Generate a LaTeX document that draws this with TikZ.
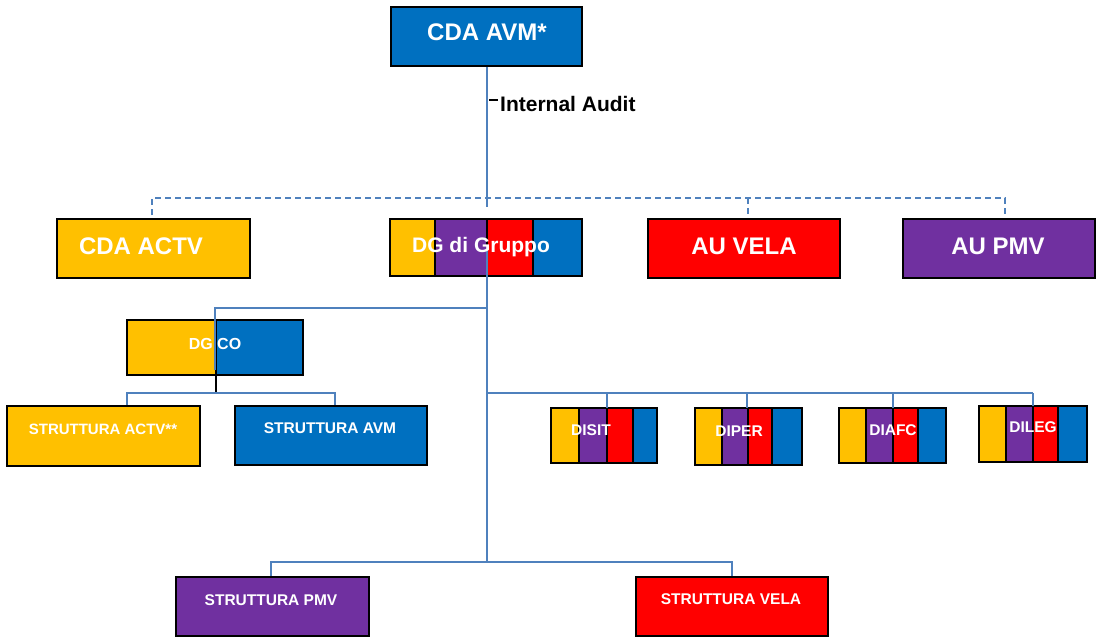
\documentclass[tikz,border=0pt]{standalone}
\usepackage{fontspec}
\setmainfont{Liberation Sans}
\definecolor{cblue}{HTML}{0070C0}
\definecolor{cyel}{HTML}{FFC000}
\definecolor{cred}{HTML}{FF0000}
\definecolor{cpur}{HTML}{7030A0}
\definecolor{conn}{HTML}{4F81BD}
\tikzset{
  box/.style={draw=black, line width=2pt, inner sep=0pt},
  seg/.style={draw=black, line width=1.8pt},
  lbl/.style={text=white, font=\bfseries\fontsize{#1}{#1}\selectfont, anchor=base, inner sep=0pt},
  link/.style={draw=conn, line width=1.5pt},
  dlink/.style={draw=conn, line width=1.5pt, dash pattern=on 6pt off 4pt},
}
\newcommand{\rbox}[6]{\node[box,fill=#6,minimum width={#4-#2},minimum height={#5-#3}] (#1) at ({(#2+#4)/2},{(#3+#5)/2}) {};}
\newcommand{\segbox}[8]{%
  \path[seg,fill=cyel] (#4,#2) rectangle (#5,#3);
  \path[seg,fill=cpur] (#5,#2) rectangle (#6,#3);
  \path[seg,fill=cred] (#6,#2) rectangle (#7,#3);
  \path[seg,fill=cblue] (#7,#2) rectangle (#8,#3);
  \node[inner sep=0pt,minimum width={#8-#4},minimum height={#3-#2}] (#1) at ({(#4+#8)/2},{(#2+#3)/2}) {};}
\begin{document}
\begin{tikzpicture}[x=1pt,y=-1pt]
\useasboundingbox (0,0) rectangle (1097,639);
% boxes
\rbox{avm}{391}{7}{582}{66}{cblue}
\rbox{actv}{57}{219}{250}{278}{cyel}
\segbox{dg}{219}{276}{390}{435}{487}{533}{582}
\rbox{vela}{648}{219}{840}{278}{cred}
\rbox{pmv}{903}{219}{1095}{278}{cpur}
\path[box,line width=2.5pt,fill=cyel] (127,320) rectangle (216,375);
\path[box,line width=2.5pt,fill=cblue] (216,320) rectangle (303,375);
\node[inner sep=0pt,minimum width=176,minimum height=55] (dgco) at (215,347.5) {};
\rbox{sactv}{7}{406}{200}{466}{cyel}
\rbox{savm}{235}{406}{427}{465}{cblue}
\segbox{disit}{408}{463}{551}{579}{607}{633}{657}
\segbox{diper}{408}{465}{695}{722}{748}{772}{802}
\segbox{diafc}{408}{463}{839}{866}{893}{918}{946}
\segbox{dileg}{406}{462}{979}{1006}{1033}{1058}{1087}
\rbox{spmv}{176}{577}{369}{636}{cpur}
\rbox{svela}{636}{577}{828}{636}{cred}
% connectors
\coordinate (t1) at (487,207);
\coordinate (t2) at (487,245);
\coordinate (t3) at (487,308);
\coordinate (t4) at (487,393);
\coordinate (t5) at (487,562);
\draw[link] (avm.south -| t1) -- (t1);
\draw[link] (t2) -- (t5);
\coordinate (d0) at (152,198);
\coordinate (d1) at (1005,198);
\draw[dlink] (152,215) -- (d0) -- (d1) -- (1005,215);
\draw[dlink] (748,198) -- (748,215);
\draw[link] (t3) -- (215,308) -- (215,370);
\draw[black, line width=1.5pt] (216,375) -- (216,393);
\draw[link] (sactv.north -| 127,0) -- (127,393) -- (335,393) -- (savm.north -| 335,0);
\draw[link] (t4) -- (1033,393);
\draw[link] (607,393) -- (disit.north -| 607,0);
\draw[link] (747,393) -- (diper.north -| 747,0);
\draw[link] (893,393) -- (diafc.north -| 893,0);
\draw[link] (1033,393) -- (dileg.north -| 1033,0);
\draw[link] (spmv.north -| 271,0) -- (271,562) -- (732,562) -- (svela.north -| 732,0);
% internal audit
\coordinate (ia0) at (489,100);
\coordinate (ia1) at (498,100);
\draw[black, line width=1.3pt] (ia0) -- (ia1);
\node[anchor=base west, inner sep=0pt, font=\bfseries\fontsize{21}{21}\selectfont] (ia) at (500,112) {Internal Audit};
% labels
\node[lbl=24] (lavm) at (487,41) {CDA AVM*};
\node[lbl=24] (lactv) at (141,254) {CDA ACTV};
\node[lbl=21] (ldg) at (481,252) {DG di Gruppo};
\node[lbl=24] (lvela) at (744,254) {AU VELA};
\node[lbl=24] (lpmv) at (998,254) {AU PMV};
\node[lbl=16] (ldgco) at (215,349) {DG CO};
\node[lbl=15] (lsactv) at (103,434) {STRUTTURA ACTV**};
\node[lbl=15.5] (lsavm) at (330,433) {STRUTTURA AVM};
\node[lbl=15.5] (ldisit) at (591,435) {DISIT};
\node[lbl=15.5] (ldiper) at (739,436) {DIPER};
\node[lbl=15.5] (ldiafc) at (893,435) {DIAFC};
\node[lbl=15.5] (ldileg) at (1033,432) {DILEG};
\node[lbl=15.5] (lspmv) at (271,605) {STRUTTURA PMV};
\node[lbl=15.5] (lsvela) at (731,604) {STRUTTURA VELA};
\end{tikzpicture}
\end{document}
